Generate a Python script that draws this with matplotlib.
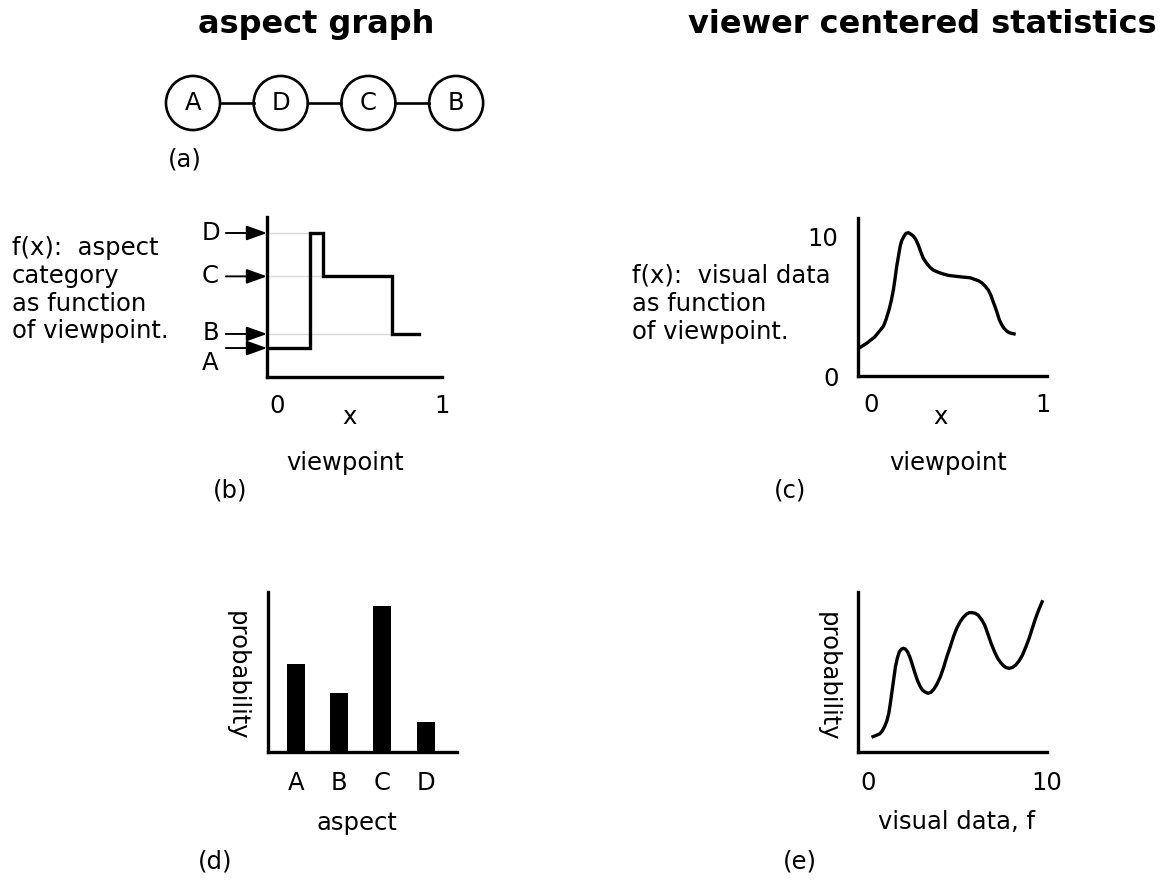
import matplotlib
matplotlib.use('Agg')
import matplotlib.pyplot as plt
from matplotlib.patches import Circle

# ---------------- data ----------------
graph_nodes = ['A', 'D', 'C', 'B']            # aspect graph chain

# (b) aspect category as function of viewpoint
aspect_levels = {'A': 0.181, 'B': 0.269, 'C': 0.629, 'D': 0.90}
step_breaks = [-0.064, 0.196, 0.279, 0.696, 0.860]
step_sequence = ['A', 'D', 'C', 'B']

# (c) visual data as function of viewpoint
view_x = [-0.074, -0.025, 0.023, 0.072, 0.087, 0.106, 0.118, 0.130, 0.140, 0.149,
          0.159, 0.169, 0.178, 0.192, 0.203, 0.217, 0.231, 0.246, 0.260, 0.275,
          0.289, 0.304, 0.324, 0.343, 0.362, 0.391, 0.420, 0.449, 0.517, 0.576,
          0.624, 0.644, 0.663, 0.682, 0.696, 0.708, 0.721, 0.734, 0.746, 0.760,
          0.773, 0.789, 0.804, 0.841]
view_f = [1.96, 2.34, 2.81, 3.55, 4.02, 4.78, 5.40, 6.14, 6.98, 7.81,
          8.52, 9.24, 9.66, 10.0, 10.19, 10.24, 10.14, 10.0, 9.76, 9.36,
          8.88, 8.41, 8.05, 7.76, 7.57, 7.41, 7.29, 7.19, 7.09, 7.02,
          6.81, 6.66, 6.43, 6.14, 5.79, 5.38, 4.95, 4.48, 4.01, 3.66,
          3.41, 3.21, 3.09, 2.98]

# (d) aspect probabilities
bar_categories = ['A', 'B', 'C', 'D']
bar_probs = [0.272, 0.183, 0.452, 0.093]

# (e) probability of visual data
f_vals = [0.29, 0.66, 0.81, 0.93, 1.06, 1.17, 1.26, 1.36, 1.45, 1.54,
          1.65, 1.76, 1.87, 1.98, 2.09, 2.21, 2.35, 2.49, 2.62, 2.76,
          2.90, 3.04, 3.19, 3.35, 3.52, 3.68, 3.86, 4.05, 4.23, 4.41,
          4.60, 4.78, 4.96, 5.15, 5.33, 5.51, 5.66, 5.82, 5.99, 6.15,
          6.34, 6.52, 6.70, 6.88, 7.07, 7.25, 7.42, 7.58, 7.73, 7.90,
          8.08, 8.26, 8.45, 8.63, 8.81, 9.00, 9.18, 9.36, 9.54, 9.73]
f_prob = [0.096, 0.113, 0.133, 0.158, 0.194, 0.242, 0.308, 0.388, 0.461, 0.533,
          0.589, 0.627, 0.642, 0.648, 0.644, 0.627, 0.592, 0.544, 0.496, 0.450,
          0.414, 0.388, 0.375, 0.367, 0.373, 0.392, 0.425, 0.471, 0.529, 0.596,
          0.658, 0.721, 0.773, 0.814, 0.842, 0.862, 0.871, 0.871, 0.867, 0.856,
          0.829, 0.794, 0.738, 0.679, 0.627, 0.585, 0.558, 0.538, 0.527, 0.523,
          0.529, 0.544, 0.571, 0.606, 0.654, 0.710, 0.773, 0.835, 0.889, 0.939]

# ---------------- figure ----------------
W, H = 1163, 883
plt.rcParams['font.family'] = ['DejaVu Sans']
FS = 17.5
LW = 2.4

fig = plt.figure(figsize=(W / 100, H / 100), dpi=100)


def fpos(x, y):
    return x / W, 1 - y / H


def ftext(x, y, s, **kw):
    kw.setdefault('ha', 'center')
    kw.setdefault('va', 'center')
    kw.setdefault('fontsize', FS)
    fig.text(*fpos(x, y), s, **kw)


def add_ax(l, t, r, b):
    return fig.add_axes([l / W, 1 - b / H, (r - l) / W, (b - t) / H])


def style(ax):
    for s in ['top', 'right']:
        ax.spines[s].set_visible(False)
    for s in ['left', 'bottom']:
        ax.spines[s].set_linewidth(LW)
        ax.spines[s].set_capstyle('projecting')
    ax.tick_params(length=0, labelsize=FS)
    ax.patch.set_visible(False)


# titles
ftext(316, 33, 'aspect graph', fontsize=23, fontweight='bold', va='baseline')
ftext(922, 33, 'viewer centered statistics', fontsize=23, fontweight='bold', va='baseline')

# ---- (a) aspect graph ----
axa = add_ax(150, 70, 500, 136)
axa.set_xlim(-0.49, 3.50)
axa.set_ylim(-0.376, 0.376)
axa.axis('off')
r = 0.308
for i, name in enumerate(graph_nodes):
    axa.add_patch(Circle((i, 0), r, fill=False, lw=1.9, ec='black'))
    axa.text(i, 0, name, ha='center', va='center', fontsize=FS)
    if i < len(graph_nodes) - 1:
        axa.plot([i + r, i + 1 - r], [0, 0], color='black', lw=1.9)
ftext(185, 160, '(a)')

# ---- (b) step function ----
axb = add_ax(267, 217, 442, 377)
style(axb)
axb.set_xlim(step_breaks[0], 0.953)
axb.set_ylim(0, 1)
step_y = [aspect_levels[c] for c in step_sequence] + [aspect_levels[step_sequence[-1]]]
for c in ['D', 'C', 'B']:
    idx = step_sequence.index(c)
    axb.plot([step_breaks[0], step_breaks[idx]], [aspect_levels[c]] * 2,
             color='#d9d9d9', lw=1.0, zorder=1)
axb.step(step_breaks, step_y, where='post', color='black', lw=LW,
         solid_joinstyle='miter', zorder=3)
axb.set_xticks([0, 1])
axb.set_xticklabels(['0', '1'])
axb.tick_params(axis='x', pad=12)
axb.set_yticks([])
label_dy = {'D': 0, 'C': 0, 'B': 0.5, 'A': -10.6}
for c, lev in aspect_levels.items():
    axb.annotate('', xy=(step_breaks[0], lev), xytext=(-0.314, lev),
                 arrowprops=dict(arrowstyle='-|>,head_length=1.25,head_width=0.45',
                                 mutation_scale=10, lw=1.4, color='black',
                                 shrinkA=0, shrinkB=0),
                 annotation_clip=False)
    axb.annotate(c, xy=(-0.407, lev), xytext=(0, label_dy[c]), textcoords='offset points',
                 ha='center', va='center', fontsize=FS, annotation_clip=False)
fig.text(*fpos(12, 236), 'f(x):  aspect\ncategory\nas function\nof viewpoint.',
         ha='left', va='top', fontsize=FS)
ftext(349, 417, 'x')
ftext(345, 463, 'viewpoint')
ftext(230, 490, '(b)')

# ---- (c) visual data curve ----
axc = add_ax(858, 218, 1047, 376)
style(axc)
axc.set_xlim(-0.0756, 1.023)
axc.set_ylim(0, 11.29)
axc.plot(view_x, view_f, color='black', lw=LW, solid_joinstyle='round',
         solid_capstyle='butt')
axc.set_xticks([0, 1])
axc.set_xticklabels(['0', '1'])
axc.set_yticks([0, 10])
axc.set_yticklabels(['0', '10'])
axc.tick_params(axis='x', pad=12)
axc.tick_params(axis='y', pad=14)
fig.text(*fpos(632, 264), 'f(x):  visual data\nas function\nof viewpoint.',
         ha='left', va='top', fontsize=FS)
ftext(940, 417, 'x')
ftext(948, 463, 'viewpoint')
ftext(790, 490, '(c)')

# ---- (d) bar chart ----
axd = add_ax(268, 592, 457, 752)
style(axd)
axd.bar(range(len(bar_categories)), bar_probs, width=0.42, color='black')
axd.set_xlim(-0.648, 3.727)
axd.set_ylim(0, 0.495)
axd.set_xticks(range(len(bar_categories)))
axd.set_xticklabels(bar_categories)
axd.tick_params(axis='x', pad=14)
axd.set_yticks([])
ftext(237, 676, 'probability', rotation=-90)
ftext(357, 823, 'aspect')
ftext(215, 862, '(d)')

# ---- (e) probability curve ----
axe = add_ax(858, 592, 1047, 752)
style(axe)
axe.plot(f_vals, f_prob, color='black', lw=LW, solid_joinstyle='round')
axe.set_xlim(-0.55, 9.835)
axe.set_ylim(0, 1)
axe.set_xticks([0, 10])
axe.set_xticklabels(['0', '10'])
axe.tick_params(axis='x', pad=14)
axe.set_yticks([])
ftext(828, 677, 'probability', rotation=-90)
ftext(957, 822, 'visual data, f')
ftext(800, 862, '(e)')

fig.savefig('out.png', dpi=100, facecolor='white')
